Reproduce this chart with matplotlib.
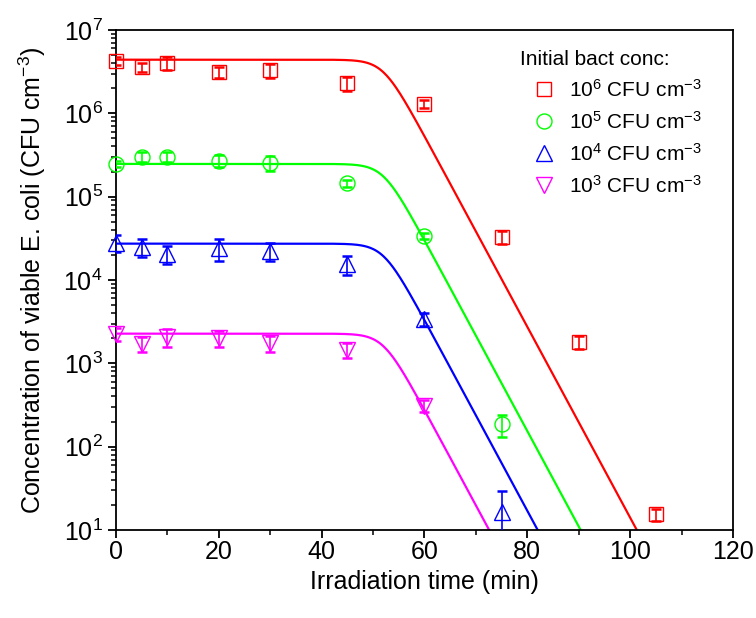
import numpy as np
import matplotlib
matplotlib.use("Agg")
import matplotlib.pyplot as plt

plt.rcParams['font.family'] = ['Liberation Sans', 'DejaVu Sans']
plt.rcParams['mathtext.fontset'] = 'custom'
plt.rcParams['mathtext.rm'] = 'Liberation Sans'
plt.rcParams['mathtext.it'] = 'Liberation Sans:italic'
plt.rcParams['mathtext.bf'] = 'Liberation Sans:bold'

# Irradiation times (min)
t_red = [0, 5, 10, 20, 30, 45, 60, 75, 90, 105]
t_green = [0, 5, 10, 20, 30, 45, 60, 75]
t_blue = [0, 5, 10, 20, 30, 45, 60, 75]
t_mag = [0, 5, 10, 20, 30, 45, 60]

# Viable E. coli (CFU cm^-3) and error bars
c_red = [4.3e6, 3.6e6, 4.05e6, 3.1e6, 3.3e6, 2.3e6, 1.3e6, 3.3e4, 1.8e3, 15.5]
e_red = [0.5e6, 0.45e6, 0.7e6, 0.45e6, 0.65e6, 0.45e6, 0.15e6, 0.6e4, 0.3e3, 2.5]
c_green = [2.45e5, 3.0e5, 3.0e5, 2.7e5, 2.55e5, 1.45e5, 3.4e4, 187]
e_green = [0.2e5, 0.4e5, 0.4e5, 0.45e5, 0.5e5, 0.15e5, 0.3e4, 55]
c_blue = [2.8e4, 2.5e4, 2.05e4, 2.4e4, 2.25e4, 1.55e4, 3.4e3, 16.4]
e_blue = [0.65e4, 0.6e4, 0.5e4, 0.7e4, 0.55e4, 0.4e4, 0.6e3, 13]
c_mag = [2.25e3, 1.7e3, 2.05e3, 2.0e3, 1.75e3, 1.45e3, 310]
e_mag = [0.4e3, 0.35e3, 0.5e3, 0.45e3, 0.38e3, 0.3e3, 50]

# fitted model curves: plateau, then log-linear decay after the shoulder
n0_fit = [4.4e6, 2.47e5, 2.73e4, 2.27e3]
slope = 0.1145    # decades per min
shoulder = 52.0   # min
sharp = 2.0       # corner sharpness

labels = ['$10^{6}$ CFU cm$^{-3}$', '$10^{5}$ CFU cm$^{-3}$',
          '$10^{4}$ CFU cm$^{-3}$', '$10^{3}$ CFU cm$^{-3}$']
colors = ['#ff0000', '#00ff00', '#0000ff', '#ff00ff']
markers = ['s', 'o', '^', 'v']
msizes = [9.6, 10.8, 12, 12]


def fit_curve(t, n0):
    drop = np.log10(1 + 10 ** (sharp * slope * (t - shoulder))) / sharp
    return n0 * 10 ** (-drop)


fig = plt.figure(figsize=(7.56, 6.18), dpi=100)
ax = fig.add_axes([0.1534, 0.1424, 0.8162, 0.8091])

tt = np.linspace(0, 120, 600)
for n0, col in zip(n0_fit, colors):
    ax.plot(tt, fit_curve(tt, n0), color=col, lw=1.6, zorder=2)

series = [(t_red, c_red, e_red), (t_green, c_green, e_green),
          (t_blue, c_blue, e_blue), (t_mag, c_mag, e_mag)]
handles = []
for (t, c, e), col, m, ms, lab in zip(series, colors, markers, msizes, labels):
    ax.errorbar(t, c, yerr=e, fmt='none', ecolor=col, elinewidth=1.2,
                capsize=3.5, capthick=1.8, zorder=3)
    h, = ax.plot(t, c, linestyle='none', marker=m, markersize=ms,
                 markerfacecolor='none', markeredgecolor=col,
                 markeredgewidth=1.0, label=lab, zorder=4, clip_on=False)
    handles.append(h)

ax.set_yscale('log')
ax.set_xlim(0, 120)
ax.set_ylim(10, 1e7)
ax.set_xticks(np.arange(0, 121, 20))
ax.set_xticks(np.arange(10, 120, 20), minor=True)
ax.tick_params(axis='both', which='major', direction='out', length=6,
               width=1.3, labelsize=18, top=False, right=False)
ax.tick_params(axis='both', which='minor', direction='out', length=3.5,
               width=1.1, top=False, right=False)
ax.tick_params(axis='x', which='major', pad=1.5)
for s in ax.spines.values():
    s.set_linewidth(1.3)

ax.set_xlabel('Irradiation time (min)', fontsize=18, labelpad=4)
ax.set_ylabel('Concentration of viable E. coli (CFU cm$^{-3}$)', fontsize=18,
              labelpad=11)

leg = ax.legend(handles=handles, title='Initial bact conc:', loc='upper left',
                bbox_to_anchor=(0.624, 0.998), frameon=False, fontsize=15,
                title_fontsize=15, handletextpad=0.05, labelspacing=0.48,
                handlelength=2.3)
leg._legend_box.align = 'left'

plt.savefig('out.png', dpi=100)
plt.close()
